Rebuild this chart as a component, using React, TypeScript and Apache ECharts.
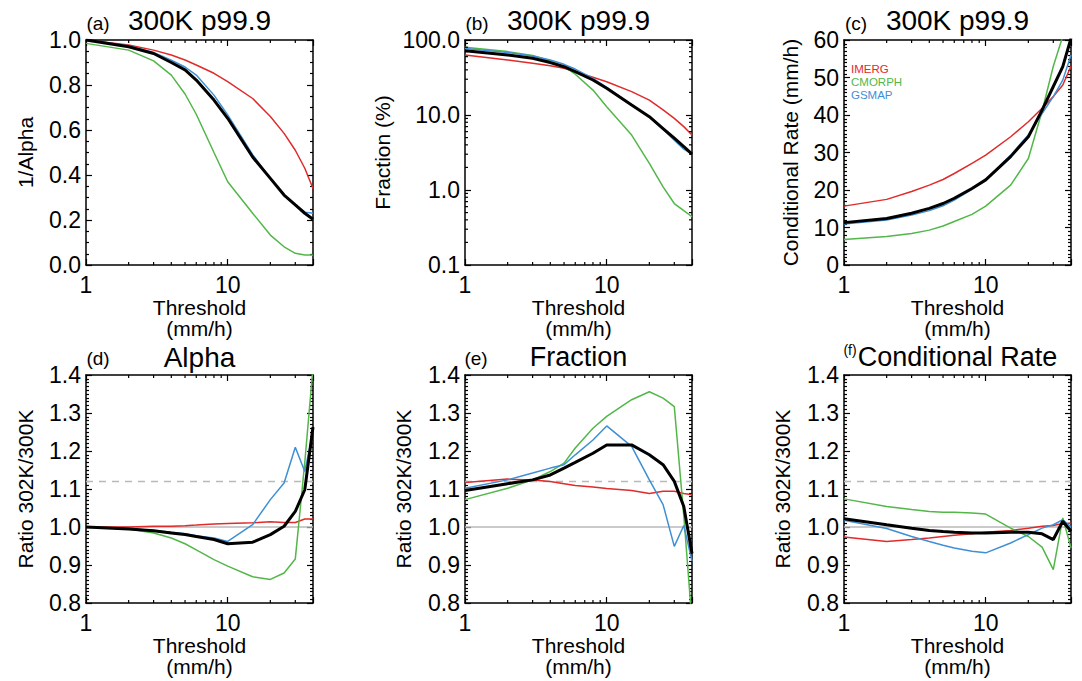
import React, { useEffect, useRef } from 'react';
import * as echarts from 'echarts';

// ---------------- DATA ----------------
const thresholds = [1, 2, 3, 4, 5, 6, 8, 10, 15, 20, 25, 30, 35, 40];
const xMinorTicks = [2, 3, 4, 5, 6, 7, 8, 9, 20, 30];
const fracMinorTicks = [0.2, 0.3, 0.4, 0.5, 0.6, 0.7, 0.8, 0.9, 2, 3, 4, 5, 6, 7, 8, 9, 20, 30, 40, 50, 60, 70, 80, 90];
const productNames = ['IMERG', 'CMORPH', 'GSMAP'];
const refRatio = 1.0;
const ccRatio = 1.12;

// (a) 1/Alpha
const invAlphaImerg = [1.0, 0.978, 0.955, 0.933, 0.911, 0.889, 0.852, 0.815, 0.74, 0.66, 0.585, 0.51, 0.43, 0.34];
const invAlphaCmorph = [0.985, 0.955, 0.907, 0.844, 0.76, 0.67, 0.5, 0.37, 0.23, 0.133, 0.081, 0.052, 0.044, 0.044];
const invAlphaGsmap = [1.0, 0.975, 0.945, 0.91, 0.88, 0.844, 0.755, 0.667, 0.49, 0.385, 0.31, 0.265, 0.235, 0.23];
const invAlphaMean = [1.0, 0.97, 0.94, 0.9, 0.867, 0.822, 0.733, 0.652, 0.48, 0.385, 0.311, 0.267, 0.23, 0.203];

// (b) Fraction (%)
const fracImerg = [63, 54, 49, 45.5, 42, 37.8, 31.8, 27.8, 20.5, 15.8, 11.7, 9, 7, 5.4];
const fracCmorph = [80, 70, 62, 53, 44, 35, 21.5, 12.9, 5.4, 2.27, 1.1, 0.66, 0.53, 0.44];
const fracGsmap = [77, 68, 61, 54, 47.4, 41, 30.8, 23.4, 13.6, 9.5, 6.4, 4.6, 3.5, 3.0];
const fracMean = [72, 63, 57, 50, 44, 37.8, 29.3, 22.7, 13.6, 9.5, 6.6, 4.9, 3.8, 3.0];

// (c) Conditional rate (mm/h)
const rateImerg = [15.7, 17.5, 19.6, 21.3, 22.8, 24.4, 27.1, 29.3, 34.2, 38.2, 41.8, 44.9, 48, 53];
const rateCmorph = [6.8, 7.6, 8.4, 9.3, 10.4, 11.6, 13.5, 15.7, 21.3, 28.4, 41, 53, 61, 70];
const rateGsmap = [10.9, 12.0, 13.3, 14.5, 15.8, 17.3, 20.2, 22.7, 29.3, 34.7, 40.4, 44.9, 49.3, 56];
const rateMean = [11.3, 12.4, 13.8, 15.1, 16.4, 17.8, 20.4, 22.7, 28.9, 34.2, 41.3, 47.6, 52.9, 60.5];

// (d) Alpha ratio 302K/300K
const alphaRatioImerg = [1.0, 1.0, 1.002, 1.002, 1.0035, 1.005, 1.008, 1.009, 1.011, 1.014, 1.012, 1.012, 1.021, 1.021];
const alphaRatioCmorph = [1.0, 0.995, 0.984, 0.971, 0.956, 0.94, 0.914, 0.897, 0.869, 0.862, 0.879, 0.916, 1.17, 1.42];
const alphaRatioGsmap = [1.0, 0.996, 0.991, 0.986, 0.982, 0.977, 0.971, 0.962, 1.006, 1.072, 1.116, 1.21, 1.146, 1.25];
const alphaRatioMean = [1.0, 0.995, 0.99, 0.984, 0.98, 0.975, 0.967, 0.956, 0.96, 0.98, 1.002, 1.041, 1.098, 1.263];

// (e) Fraction ratio 302K/300K
const fracRatioImerg = [1.117, 1.126, 1.124, 1.12, 1.114, 1.109, 1.105, 1.101, 1.096, 1.088, 1.094, 1.094, 1.088, 1.085];
const fracRatioCmorph = [1.072, 1.102, 1.124, 1.146, 1.168, 1.208, 1.26, 1.291, 1.335, 1.356, 1.339, 1.317, 1.03, 0.75];
const fracRatioGsmap = [1.102, 1.124, 1.142, 1.155, 1.164, 1.19, 1.229, 1.266, 1.212, 1.124, 1.059, 0.949, 1.004, 0.91];
const fracRatioMean = [1.096, 1.114, 1.124, 1.137, 1.155, 1.17, 1.194, 1.216, 1.216, 1.19, 1.164, 1.12, 1.054, 0.93];

// (f) Conditional rate ratio 302K/300K
const rateRatioImerg = [0.974, 0.962, 0.967, 0.971, 0.975, 0.978, 0.982, 0.986, 0.991, 0.997, 1.002, 1.004, 1.009, 1.01];
const rateRatioCmorph = [1.074, 1.054, 1.046, 1.041, 1.039, 1.039, 1.037, 1.034, 0.997, 0.975, 0.947, 0.888, 1.024, 0.945];
const rateRatioGsmap = [1.018, 0.996, 0.975, 0.962, 0.952, 0.945, 0.936, 0.932, 0.958, 0.98, 0.997, 1.006, 1.019, 1.0];
const rateRatioMean = [1.022, 1.006, 0.997, 0.991, 0.988, 0.986, 0.984, 0.984, 0.986, 0.986, 0.982, 0.967, 1.015, 0.989];

// ---------------- STYLE / LAYOUT ----------------
const FONT = "'Liberation Sans', Arial, Helvetica, sans-serif";
const COLORS = ['#e12a2a', '#52b748', '#3f8fd4'];
const MEAN_COLOR = '#000000';
const REF_COLOR = '#b9b9b9';
const X_MIN = 1;
const X_MAX = 40;

type Panel = {
  left: number; top: number; width: number; height: number;
  yMin: number; yMax: number; interval: number; minorSplit: number; logY: boolean;
  yName: string; nameGap: number; tag: string; title: string; tagSize: number; tagX: number; tagY: number;
  titleSize: number; titleY: number;
  series: number[][]; ratio: boolean; decimals: number;
};

const PANELS: Panel[] = [
  { left: 86, top: 40, width: 227, height: 225, yMin: 0, yMax: 1, interval: 0.2, minorSplit: 4, logY: false,
    yName: '1/Alpha', nameGap: 50, tag: '(a)', title: '300K p99.9', tagSize: 19, tagX: 98, tagY: 23, titleSize: 28, titleY: 20,
    series: [invAlphaImerg, invAlphaCmorph, invAlphaGsmap, invAlphaMean], ratio: false, decimals: 1 },
  { left: 465, top: 40, width: 227, height: 225, yMin: -1, yMax: 2, interval: 1, minorSplit: 0, logY: true,
    yName: 'Fraction (%)', nameGap: 72, tag: '(b)', title: '300K p99.9', tagSize: 19, tagX: 477, tagY: 23, titleSize: 28, titleY: 20,
    series: [fracImerg, fracCmorph, fracGsmap, fracMean], ratio: false, decimals: 1 },
  { left: 844, top: 40, width: 227, height: 225, yMin: 0, yMax: 60, interval: 10, minorSplit: 10, logY: false,
    yName: 'Conditional Rate (mm/h)', nameGap: 43, tag: '(c)', title: '300K p99.9', tagSize: 19, tagX: 856, tagY: 23, titleSize: 28, titleY: 20,
    series: [rateImerg, rateCmorph, rateGsmap, rateMean], ratio: false, decimals: 0 },
  { left: 86, top: 375, width: 227, height: 228, yMin: 0.8, yMax: 1.4, interval: 0.1, minorSplit: 10, logY: false,
    yName: 'Ratio 302K/300K', nameGap: 50, tag: '(d)', title: 'Alpha', tagSize: 19, tagX: 98, tagY: 358, titleSize: 28, titleY: 357,
    series: [alphaRatioImerg, alphaRatioCmorph, alphaRatioGsmap, alphaRatioMean], ratio: true, decimals: 1 },
  { left: 465, top: 375, width: 227, height: 228, yMin: 0.8, yMax: 1.4, interval: 0.1, minorSplit: 10, logY: false,
    yName: 'Ratio 302K/300K', nameGap: 51, tag: '(e)', title: 'Fraction', tagSize: 19, tagX: 476, tagY: 358, titleSize: 27, titleY: 357,
    series: [fracRatioImerg, fracRatioCmorph, fracRatioGsmap, fracRatioMean], ratio: true, decimals: 1 },
  { left: 844, top: 375, width: 227, height: 228, yMin: 0.8, yMax: 1.4, interval: 0.1, minorSplit: 10, logY: false,
    yName: 'Ratio 302K/300K', nameGap: 51, tag: '(f)', title: 'Conditional Rate', tagSize: 14, tagX: 850, tagY: 350, titleSize: 27, titleY: 357,
    series: [rateRatioImerg, rateRatioCmorph, rateRatioGsmap, rateRatioMean], ratio: true, decimals: 1 },
];

const lx = (t: number) => Math.log10(t);

function buildOption() {
  const grid: any[] = [];
  const xAxis: any[] = [];
  const yAxis: any[] = [];
  const series: any[] = [];
  const graphic: any[] = [];
  const axisLine = { show: true, onZero: false, lineStyle: { color: '#000', width: 1.5 } };
  const tickStyle = { color: '#000', width: 1.2 };

  PANELS.forEach((p, i) => {
    grid.push({ left: p.left, top: p.top, width: p.width, height: p.height, containLabel: false, outerBoundsMode: 'none' });
    const xBase = {
      type: 'value', gridIndex: i, min: lx(X_MIN), max: lx(X_MAX), interval: 1,
      axisLine, splitLine: { show: false },
      axisTick: { show: true, inside: true, length: 6, lineStyle: tickStyle },
    };
    xAxis.push({
      ...xBase, position: 'bottom',
      axisLabel: {
        show: true, color: '#000', fontSize: 23, fontFamily: FONT, margin: 8, showMinLabel: true, showMaxLabel: true,
        formatter: (v: number) => (Math.abs(v - Math.round(v)) < 1e-9 ? String(Math.round(Math.pow(10, v))) : ''),
      },
      name: 'Threshold\n(mm/h)', nameLocation: 'middle', nameGap: 32,
      nameTextStyle: { color: '#000', fontSize: 21, fontFamily: FONT, lineHeight: 21 },
    });
    xAxis.push({ ...xBase, position: 'top', axisLabel: { show: false } });

    const yBase = {
      type: 'value', gridIndex: i, min: p.yMin, max: p.yMax, interval: p.interval,
      axisLine, splitLine: { show: false },
      axisTick: { show: true, inside: true, length: 6, lineStyle: tickStyle },
      minorTick: { show: p.minorSplit > 0, splitNumber: p.minorSplit || 5, length: 3, lineStyle: tickStyle },
      minorSplitLine: { show: false },
    };
    yAxis.push({
      ...yBase, position: 'left',
      axisLabel: {
        show: true, color: '#000', fontSize: 23, fontFamily: FONT, margin: 5, showMinLabel: true, showMaxLabel: true,
        formatter: (v: number) => (p.logY ? Math.pow(10, v).toFixed(1) : v.toFixed(p.decimals)),
      },
      name: p.yName, nameLocation: 'middle', nameGap: p.nameGap,
      nameTextStyle: { color: '#000', fontSize: 21, fontFamily: FONT },
    });
    yAxis.push({ ...yBase, position: 'right', axisLabel: { show: false } });

    const xi = 2 * i;
    const yi = 2 * i;
    const tx = (v: number) => (p.logY ? Math.log10(v) : v);

    if (p.ratio) {
      series.push({
        type: 'line', xAxisIndex: xi, yAxisIndex: yi, silent: true, symbol: 'none', z: 1,
        data: [[lx(X_MIN), refRatio], [lx(X_MAX), refRatio]],
        lineStyle: { color: REF_COLOR, width: 1.5, type: 'solid' },
      });
      series.push({
        type: 'line', xAxisIndex: xi, yAxisIndex: yi, silent: true, symbol: 'none', z: 1,
        data: [[lx(X_MIN), ccRatio], [lx(X_MAX), ccRatio]],
        lineStyle: { color: REF_COLOR, width: 1.5, type: [7, 6] },
      });
    }

    p.series.forEach((vals, k) => {
      const isMean = k === 3;
      series.push({
        type: 'line', name: isMean ? 'Mean' : productNames[k], xAxisIndex: xi, yAxisIndex: yi,
        silent: true, symbol: 'none', showSymbol: false, clip: true, z: 2 + k,
        data: thresholds.map((t, j) => [lx(t), tx(vals[j])]),
        lineStyle: { color: isMean ? MEAN_COLOR : COLORS[k], width: isMean ? 3 : 1.5 },
      });
    });

    // log-axis minor ticks (x on bottom & top)
    series.push({
      type: 'custom', xAxisIndex: xi, yAxisIndex: yi, silent: true, z: 10,
      data: xMinorTicks.map((t) => [lx(t), p.yMin]),
      encode: { x: 0, y: 1 },
      renderItem: (params: any, api: any) => {
        const xv = api.value(0);
        const b = api.coord([xv, p.yMin]);
        const t = api.coord([xv, p.yMax]);
        return {
          type: 'group',
          children: [
            { type: 'line', shape: { x1: b[0], y1: b[1], x2: b[0], y2: b[1] - 3 }, style: { stroke: '#000', lineWidth: 1.2 } },
            { type: 'line', shape: { x1: t[0], y1: t[1], x2: t[0], y2: t[1] + 3 }, style: { stroke: '#000', lineWidth: 1.2 } },
          ],
        };
      },
    });

    if (p.logY) {
      series.push({
        type: 'custom', xAxisIndex: xi, yAxisIndex: yi, silent: true, z: 10,
        data: fracMinorTicks.map((v) => [lx(X_MIN), Math.log10(v)]),
        encode: { x: 0, y: 1 },
        renderItem: (params: any, api: any) => {
          const yv = api.value(1);
          const l = api.coord([lx(X_MIN), yv]);
          const r = api.coord([lx(X_MAX), yv]);
          return {
            type: 'group',
            children: [
              { type: 'line', shape: { x1: l[0], y1: l[1], x2: l[0] + 3, y2: l[1] }, style: { stroke: '#000', lineWidth: 1.2 } },
              { type: 'line', shape: { x1: r[0], y1: r[1], x2: r[0] - 3, y2: r[1] }, style: { stroke: '#000', lineWidth: 1.2 } },
            ],
          };
        },
      });
    }

    graphic.push({
      type: 'text', x: p.tagX, y: p.tagY, silent: true,
      style: { text: p.tag, fontSize: p.tagSize, fontFamily: FONT, fill: '#000', align: 'center', verticalAlign: 'middle' },
    });
    graphic.push({
      type: 'text', x: p.left + p.width / 2, y: p.titleY, silent: true,
      style: { text: p.title, fontSize: p.titleSize, fontFamily: FONT, fill: '#000', align: 'center', verticalAlign: 'middle' },
    });
  });

  // legend texts inside panel (c)
  const legendY = [69, 82, 95];
  productNames.forEach((n, k) => {
    graphic.push({
      type: 'text', x: 851, y: legendY[k], silent: true, z: 20,
      style: { text: n, fontSize: 11.5, fontFamily: FONT, fill: COLORS[k], align: 'left', verticalAlign: 'middle' },
    });
  });

  return {
    animation: false,
    backgroundColor: '#ffffff',
    textStyle: { fontFamily: FONT },
    grid, xAxis, yAxis, series, graphic,
  };
}

export default function App() {
  const ref = useRef<HTMLDivElement>(null);
  useEffect(() => {
    if (!ref.current) return;
    const chart = echarts.init(ref.current, undefined, { renderer: 'svg' });
    chart.setOption(buildOption() as any);
    return () => chart.dispose();
  }, []);
  return (
    <div
      ref={ref}
      style={{ position: 'fixed', left: 0, top: 0, width: 1082, height: 681, background: '#fff' }}
    />
  );
}
